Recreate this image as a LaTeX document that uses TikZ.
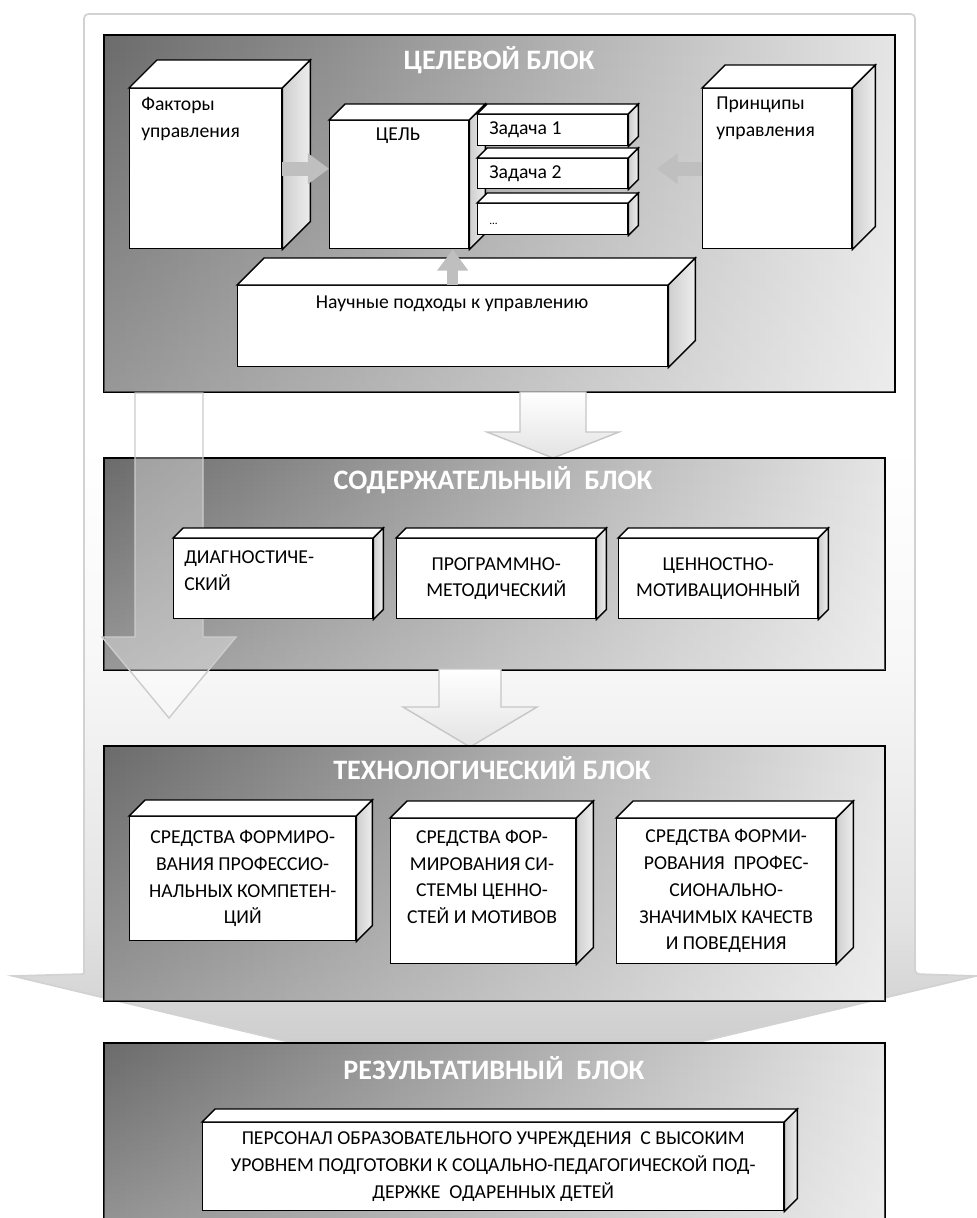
\documentclass[tikz,border=0pt]{standalone}
\usepackage{fontspec}
\setmainfont{Carlito}
\usetikzlibrary{arrows.meta,positioning,fadings}

% light fill of the large background arrow
\pgfdeclareverticalshading{outershade}{100bp}{color(0bp)=(gray!45); color(25bp)=(gray!45); color(33bp)=(gray!22); color(45bp)=(gray!6); color(55bp)=(white); color(100bp)=(white)}

% top and side faces of a box node: #1 name, #2 depth (px)
\newcommand{\cube}[2]{%
  \draw[line width=1pt,fill=white] (#1.north west) -- ++(#2,-#2) -- ([shift={(#2,-#2)}]#1.north east) -- (#1.north east) -- cycle;
  \draw[line width=1pt,left color=gray!38,right color=gray!14] (#1.north east) -- ++(#2,-#2) -- ([shift={(#2,-#2)}]#1.south east) -- (#1.south east) -- cycle;
}
% lighter lower part of a block
\newcommand{\fade}[1]{%
  \fill[white,path fading=north,fill opacity=0.3] ([shift={(1,1)}]#1.north west) rectangle ([shift={(-1,-1)}]#1.south east);
}
% block arrow: [style] centre x, top y, tip y, half shaft, half head, head length
\newcommand{\blkarrow}[7][bigarr]{%
  \draw[#1] ({#2-#5},#3) -- ({#2+#5},#3) -- ({#2+#5},{#4-#7}) -- ({#2+#6},{#4-#7}) -- (#2,#4)
    -- ({#2-#6},{#4-#7}) -- ({#2-#5},{#4-#7}) -- cycle;
}

\begin{document}
\begin{tikzpicture}[x=0.025cm,y=-0.025cm,
    box/.style 2 args={draw=black,fill=white,line width=1pt,inner sep=0pt,anchor=north west,
      minimum width=#1*0.025cm,minimum height=#2*0.025cm,
      font=\fontsize{14}{19}\selectfont,align=center},
    blk/.style 2 args={draw=black,line width=1.3pt,inner sep=0pt,anchor=north west,
      minimum width=#1*0.025cm,minimum height=#2*0.025cm,
      left color=black!58,right color=black!10},
    ttl/.style={text=white,font=\fontsize{20}{24}\selectfont\bfseries},
    txt/.style={inner sep=0pt,font=\fontsize{14}{19}\selectfont},
    bigarr/.style={draw=gray!45,line width=1pt,top color=white,bottom color=gray!22},
    ghostarr/.style={draw=gray!40,line width=1pt,fill=white,fill opacity=0.35},
    sarr/.style={line width=10pt,draw=gray!50,-{Triangle[length=15pt,width=21pt]}}]
  \useasboundingbox (0,0) rectangle (976,1218);

  % large background arrow
  \draw[gray!35,line width=1.2pt,shading=outershade,rounded corners=3pt] (84,974) -- (84,14) -- (915,14) -- (915,974)
    [sharp corners] -- (976,976) -- (494,1091) -- (13,976) -- cycle;

  % target block
  \node[blk={791}{357}] (b1) at (103,34) {};
  \fade{b1}
  \node[ttl] (t1) at (499,60) {ЦЕЛЕВОЙ БЛОК};
  \node[box={152}{160}] (fakt) at (129,88) {};
  \cube{fakt}{28}
  \node[txt,anchor=north west,align=left] (fakt-t) at (141,97) {Факторы\\управления};
  \node[box={139}{128}] (goal) at (329,120) {};
  \cube{goal}{16}
  \node[txt,anchor=north] (goal-t) at (398,128) {ЦЕЛЬ};
  \node[box={150}{31}] (task1) at (477,114) {};
  \cube{task1}{10}
  \node[txt,anchor=west] (task1-t) at (489,130) {Задача 1};
  \node[box={150}{30}] (task2) at (477,158) {};
  \cube{task2}{10}
  \node[txt,anchor=west] (task2-t) at (489,174) {Задача 2};
  \node[box={150}{31}] (task3) at (477,203) {};
  \cube{task3}{10}
  \node[txt,anchor=west,font=\fontsize{8}{9}\selectfont] (task3-t) at (489,224) {...};
  \node[box={149}{160}] (princ) at (702,88) {};
  \cube{princ}{23}
  \node[txt,anchor=north west,align=left] (princ-t) at (716,97) {Принципы\\управления};
  \node[box={430}{81}] (appr) at (237,285) {};
  \cube{appr}{27}
  \node[txt,anchor=north] (appr-t) at (452,296) {Научные подходы к управлению};
  \draw[sarr] (fakt.east) -- (fakt.east -| goal.west);
  \draw[sarr,shorten >=20pt] (princ.west) -- (princ.west -| task2.east);
  \draw[sarr,line width=8pt] (appr.north) -- (appr.north |- goal.south);

  % content block
  \blkarrow{553}{392}{458}{33}{66}{26}
  \node[blk={781}{212}] (b2) at (103,457) {};
  \fade{b2}
  \node[ttl] (t2) at (493,480) {СОДЕРЖАТЕЛЬНЫЙ\ \ БЛОК};
  \blkarrow[ghostarr]{169}{393}{718}{34}{67}{81}
  \node[box={199}{80}] (diag) at (173,538) {};
  \cube{diag}{10}
  \node[txt,anchor=west,align=left] (diag-t) at (184,571) {ДИАГНОСТИЧЕ-\\СКИЙ};
  \node[box={199}{80}] (prog) at (396,538) {ПРОГРАММНО-\\МЕТОДИЧЕСКИЙ};
  \cube{prog}{10}
  \node[box={199}{80}] (valu) at (618,538) {ЦЕННОСТНО-\\МОТИВАЦИОННЫЙ};
  \cube{valu}{10}

  % technology block
  \blkarrow{470}{669}{747}{31}{67}{40}
  \node[blk={781}{255}] (b3) at (103,745) {};
  \fade{b3}
  \node[ttl] (t3) at (492,768) {ТЕХНОЛОГИЧЕСКИЙ БЛОК};
  \node[box={226}{124}] (tech1) at (129,816) {СРЕДСТВА ФОРМИРО-\\ВАНИЯ ПРОФЕССИО-\\НАЛЬНЫХ КОМПЕТЕН-\\ЦИЙ};
  \cube{tech1}{16}
  \node[box={185}{145}] (tech2) at (390,818) {};
  \cube{tech2}{17}
  \node[txt,align=center] (tech2-t) at (482,877) {СРЕДСТВА ФОР-\\МИРОВАНИЯ СИ-\\СТЕМЫ ЦЕННО-\\СТЕЙ И МОТИВОВ};
  \node[box={219}{145}] (tech3) at (616,818) {СРЕДСТВА ФОРМИ-\\РОВАНИЯ\ \ ПРОФЕС-\\СИОНАЛЬНО-\\ЗНАЧИМЫХ КАЧЕСТВ\\И ПОВЕДЕНИЯ};
  \cube{tech3}{17}

  % result block
  \node[blk={781}{200}] (b4) at (103,1042) {};
  \fade{b4}
  \node[ttl] (t4) at (494,1068) {РЕЗУЛЬТАТИВНЫЙ\ \ БЛОК};
  \node[box={581}{88}] (res) at (202,1122) {ПЕРСОНАЛ ОБРАЗОВАТЕЛЬНОГО УЧРЕЖДЕНИЯ\ \ С ВЫСОКИМ\\УРОВНЕМ ПОДГОТОВКИ К СОЦАЛЬНО-ПЕДАГОГИЧЕСКОЙ ПОД-\\ДЕРЖКЕ\ \ ОДАРЕННЫХ ДЕТЕЙ};
  \cube{res}{13}
\end{tikzpicture}
\end{document}
